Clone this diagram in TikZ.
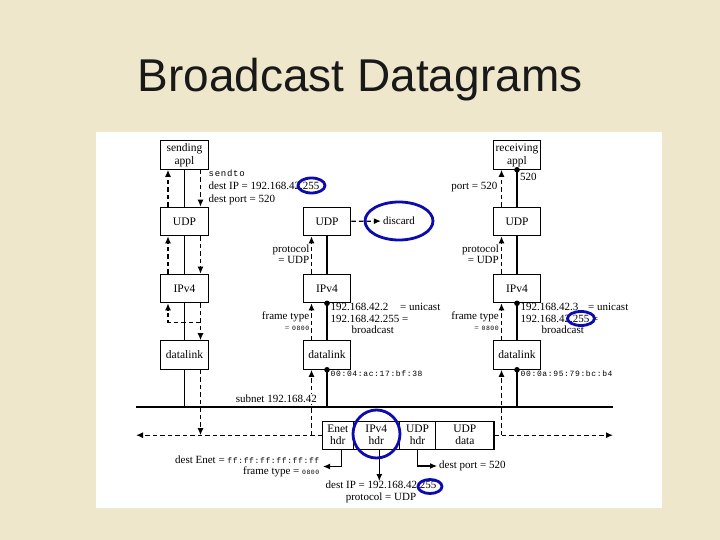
\documentclass[tikz,border=0pt]{standalone}
\usepackage{fontspec}
\setmainfont{Liberation Serif}
\newfontfamily\titlefont{Liberation Sans}
\newfontfamily\codefont{Liberation Mono}[LetterSpace=8]
\definecolor{SlideBeige}{HTML}{EFE7CB}
\definecolor{RingBlue}{HTML}{0B0BB0}
\usetikzlibrary{arrows.meta, positioning, calc, shapes.geometric}

\begin{document}
\begin{tikzpicture}[x=1pt, y=-1pt,
   layer/.style={draw, line width=1.1pt, minimum width=47.5pt, minimum height=28.5pt,
      align=center, inner sep=1pt, font=\fontsize{11.5}{13}\selectfont},
   pkt/.style={draw, line width=1.1pt, minimum height=28.3pt, inner sep=0pt, outer sep=0pt,
      align=center, font=\fontsize{11.5}{12}\selectfont},
   flow/.style={line width=1.3pt, dash pattern=on 4.5pt off 3pt, -{Latex[length=7pt,width=6pt]}},
   wire/.style={line width=1.1pt},
   ptr/.style={line width=1.1pt, -{Latex[length=7pt,width=6pt]}},
   lbl/.style={inner sep=0pt, font=\fontsize{11}{11.5}\selectfont},
   hilite/.style={draw=RingBlue, line width=2.8pt, ellipse, inner sep=0pt}]
            % Slide and panel
            \fill[SlideBeige] (0,0) rectangle (720,540);
            \fill[white] (96,132) rectangle (662,508);
            \node[font=\titlefont\fontsize{46}{46}\selectfont, anchor=base, text=black!90] (title) at (360,92) {Broadcast Datagrams};
            % Sending host
            \node[layer] (sendappl) at (184.5,155) {sending\\appl};
            \node[layer] (sendudp) at (184.5,221.5) {UDP};
            \node[layer] (sendip) at (184.5,288.5) {IPv4};
            \node[layer] (sendlink) at (184.5,355) {datalink};
            % Middle host
            \node[layer] (midudp) at (327,221.5) {UDP};
            \node[layer] (midip) at (327,288.5) {IPv4};
            \node[layer] (midlink) at (327,355) {datalink};
            % Receiving host
            \node[layer] (recvappl) at (517,155) {receiving\\appl};
            \node[layer] (recvudp) at (517,221.5) {UDP};
            \node[layer] (recvip) at (517,288.5) {IPv4};
            \node[layer] (recvlink) at (517,355) {datalink};
            % Subnet
            \coordinate (subL) at (136,407);
            \coordinate (subR) at (613,407);
            \coordinate (busL) at (136,435.5);
            \coordinate (busR) at (613,435.5);
            \draw[line width=2.8pt] (subL) -- (subR);
            % Stacks
            \draw[wire] (sendappl) -- (sendudp) -- (sendip) -- (sendlink) -- (sendlink.south |- subL);
            \draw[wire] (midudp) -- (midip) -- (midlink) -- (midlink.south |- subL);
            \draw[wire] (recvappl) -- (recvudp) -- (recvip) -- (recvlink) -- (recvlink.south |- subL);
            \foreach \n in {midip, midlink, recvappl, recvip, recvlink}
               \fill (\n.south) circle (2.8pt);
            % Frame
            \node[pkt, minimum width=31pt, anchor=west] (enethdr) at (322.3,435.2) {Enet\\hdr};
            \node[pkt, minimum width=46pt, right=0pt of enethdr] (iphdr) {IPv4\\hdr};
            \node[pkt, minimum width=36.4pt, right=0pt of iphdr] (udphdr) {UDP\\hdr};
            \node[pkt, minimum width=58.3pt, right=0pt of udphdr] (udpdata) {UDP\\data};
            % Down the sender
            \draw[flow] ([xshift=16pt]sendappl.south) -- ([xshift=16pt]sendudp.north);
            \draw[flow] ([xshift=16pt]sendudp.south) -- ([xshift=16pt]sendip.north);
            \draw[flow] ([xshift=16pt]sendip.south) -- ([xshift=16pt]sendlink.north);
            \draw[flow] ([xshift=16pt]sendlink.south) -- ([xshift=16pt]sendlink.south |- enethdr.west);
            \draw[flow] ([xshift=16pt]sendip.south) ++(0,19) -| ([xshift=-16.5pt]sendip.south);
            \draw[flow] ([xshift=-16.5pt]sendip.north) -- ([xshift=-16.5pt]sendudp.south);
            \draw[flow] ([xshift=-16.5pt]sendudp.north) -- ([xshift=-16.5pt]sendappl.south);
            % On the wire
            \draw[flow] (enethdr.west) -- (enethdr.west -| busL);
            \draw[flow] (udpdata.east) -- (udpdata.east -| busR);
            % Up the middle host
            \node[lbl, inner xsep=2pt] (discard) at (399,221) {discard};
            \draw[flow] ([xshift=-15.5pt]midlink.south |- enethdr.west) -- ([xshift=-15.5pt]midlink.south);
            \draw[flow] ([xshift=-15.5pt]midlink.north) -- ([xshift=-15.5pt]midip.south);
            \draw[flow] ([xshift=-15.5pt]midip.north) -- ([xshift=-15.5pt]midudp.south);
            \draw[flow] (midudp) -- (discard);
            % Up the receiver
            \draw[flow] ([xshift=-15.5pt]recvlink.south |- enethdr.west) -- ([xshift=-15.5pt]recvlink.south);
            \draw[flow] ([xshift=-15.5pt]recvlink.north) -- ([xshift=-15.5pt]recvip.south);
            \draw[flow] ([xshift=-15.5pt]recvip.north) -- ([xshift=-15.5pt]recvudp.south);
            \draw[flow] ([xshift=-15.5pt]recvudp.north) -- ([xshift=-15.5pt]recvappl.south);
            % Labels
            \node[lbl, align=left, anchor=north west, font=\fontsize{11}{13}\selectfont] (sendinfo) at (208.5,169.5)
               {{\codefont\fontsize{9}{9}\selectfont sendto}\\dest IP = 192.168.42.255\\dest port = 520};
            \node[lbl, anchor=east] (portlbl) at (497.5,187.5) {port = 520};
            \node[lbl, anchor=west] (applport) at (520,176.5) {520};
            \node[lbl, align=right, anchor=east] (midproto) at (309.5,254) {protocol\\= UDP};
            \node[lbl, align=right, anchor=east] (recvproto) at (499,254) {protocol\\= UDP};
            \node[lbl, align=right, anchor=east] (midframe) at (309.5,321)
               {frame type\\{\fontsize{8}{8}\selectfont =} {\codefont\fontsize{6.5}{7}\selectfont 0800}};
            \node[lbl, align=right, anchor=east] (recvframe) at (499,321)
               {frame type\\{\fontsize{8}{8}\selectfont =} {\codefont\fontsize{6.5}{7}\selectfont 0800}};
            \node[lbl, align=left, anchor=north west] (midaddr) at (330.5,303)
               {\makebox[69.5pt][l]{192.168.42.2}= unicast\\192.168.42.255 =\\\hspace*{21pt}broadcast};
            \node[lbl, align=left, anchor=north west] (recvaddr) at (520.5,303)
               {\makebox[67.5pt][l]{192.168.42.3}= unicast\\192.168.42.255 =\\\hspace*{21pt}broadcast};
            \node[lbl, anchor=west, font=\codefont\fontsize{8}{8}\selectfont] (midmac) at (330.5,373.3) {00:04:ac:17:bf:38};
            \node[lbl, anchor=west, font=\codefont\fontsize{8}{8}\selectfont] (recvmac) at (520.5,373.3) {00:0a:95:79:bc:b4};
            \node[lbl, anchor=east, fill=white, inner sep=1pt] (subnet) at (318,399) {subnet 192.168.42};
            % Header fields
            \node[lbl, align=right, anchor=east, inner xsep=3.5pt] (enetinfo) at (323,466.5)
               {dest Enet = {\codefont\fontsize{8}{8}\selectfont ff:ff:ff:ff:ff:ff}\\frame type = {\codefont\fontsize{6.5}{7}\selectfont 0800}};
            \node[lbl, align=center, anchor=north] (ipinfo) at (381,481) {dest IP = 192.168.42.255\\protocol = UDP};
            \node[lbl, anchor=west, inner xsep=2pt] (dportinfo) at (437,466) {dest port = 520};
            \draw[ptr] ([xshift=4pt]enethdr.south) |- (enetinfo.east);
            \draw[ptr] ([xshift=3pt]iphdr.south) -- ([xshift=3pt]iphdr.south |- ipinfo.north);
            \draw[ptr] (udphdr.south) |- (dportinfo.west);
            % Highlights
            \node[hilite, minimum width=27pt, minimum height=15pt] (ringip) at (311.5,185.5) {};
            \node[hilite, minimum width=68pt, minimum height=38pt] (ringdiscard) at (399,221) {};
            \node[hilite, minimum width=27pt, minimum height=14pt] (ringbcast) at (581,318.5) {};
            \node[hilite, minimum width=47pt, minimum height=48pt] (ringhdr) at (376.5,434) {};
            \node[hilite, minimum width=24pt, minimum height=14pt] (ringdst) at (430,486.5) {};
\end{tikzpicture}
\end{document}
